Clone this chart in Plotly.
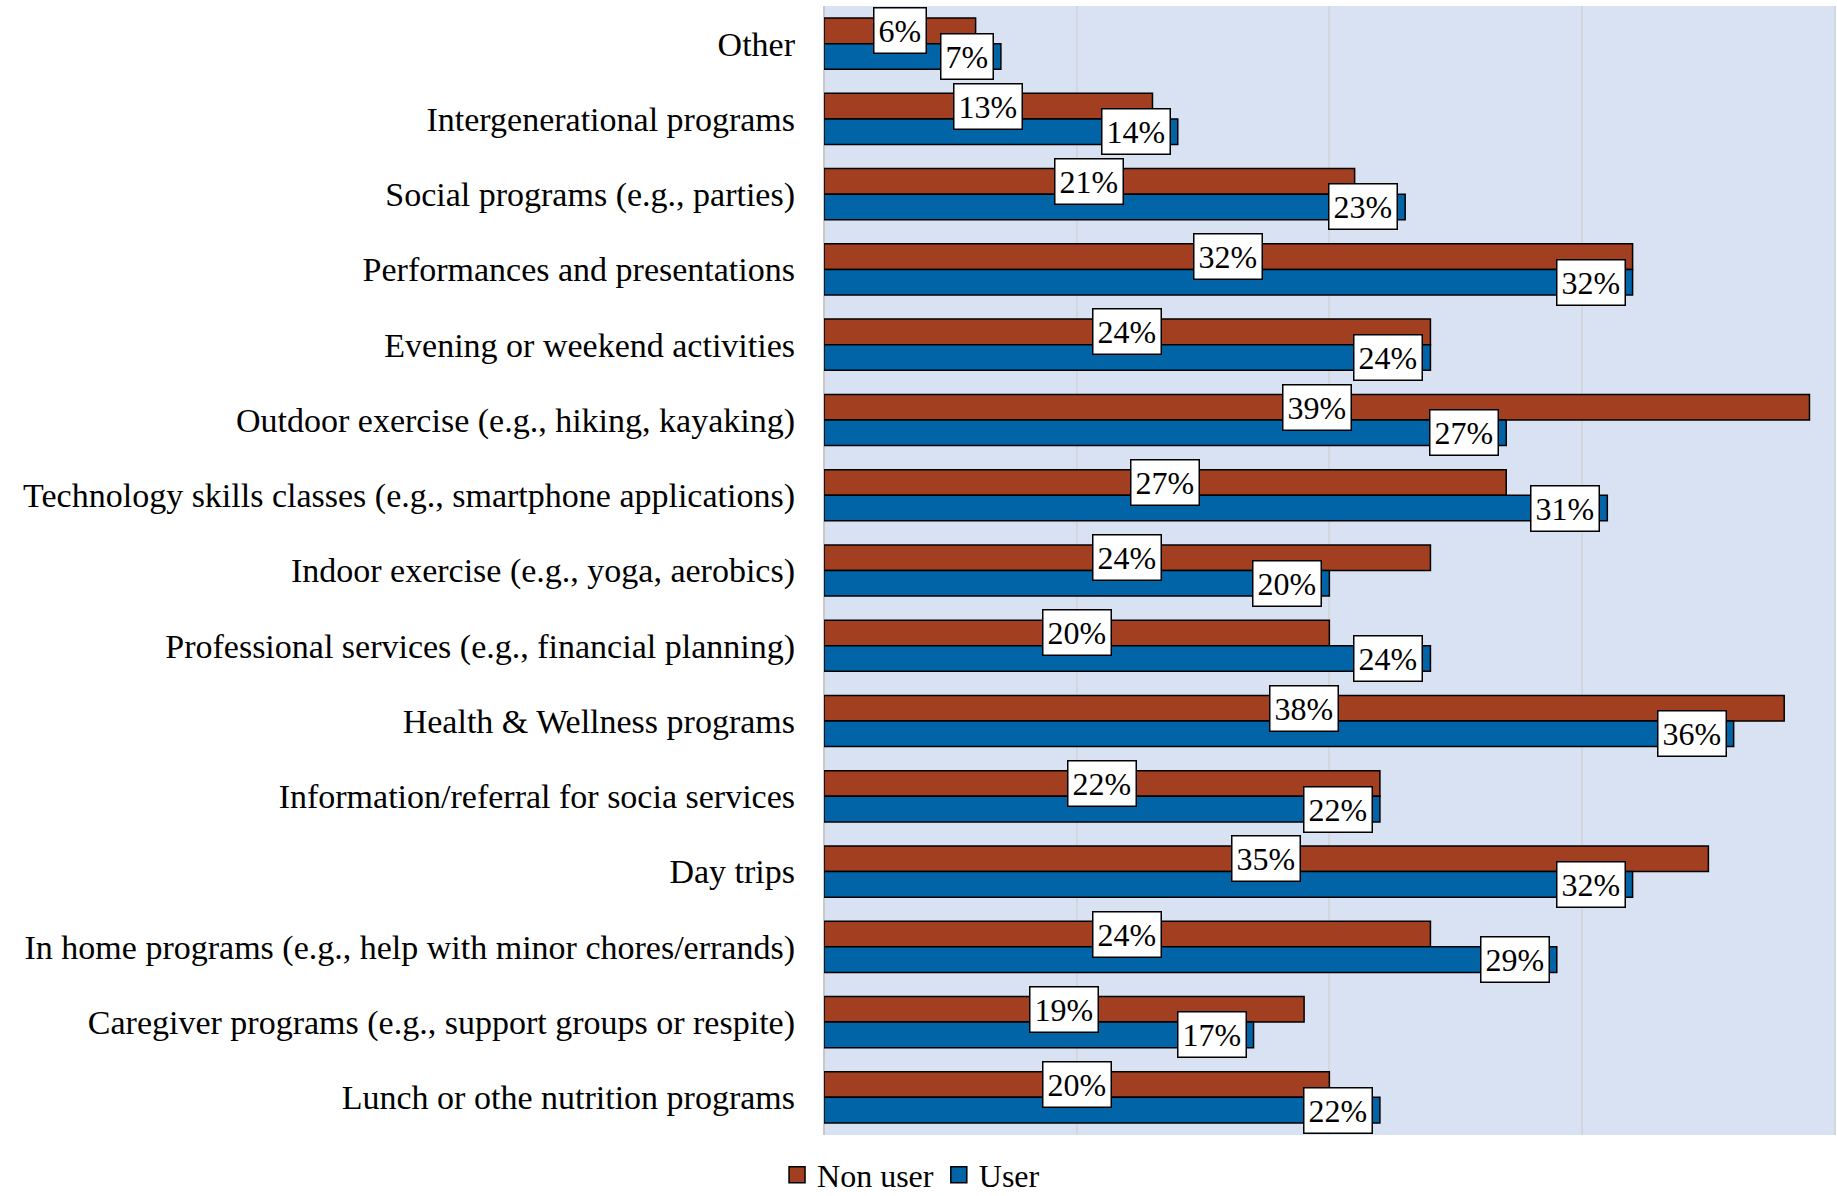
import plotly.graph_objects as go

categories = [
    "Other",
    "Intergenerational programs",
    "Social programs (e.g., parties)",
    "Performances and presentations",
    "Evening or weekend activities",
    "Outdoor exercise (e.g., hiking, kayaking)",
    "Technology skills classes (e.g., smartphone applications)",
    "Indoor exercise (e.g., yoga, aerobics)",
    "Professional services (e.g., financial planning)",
    "Health & Wellness programs",
    "Information/referral for socia services",
    "Day trips",
    "In home programs (e.g., help with minor chores/errands)",
    "Caregiver programs (e.g., support groups or respite)",
    "Lunch or othe nutrition programs",
]
non_user = [6, 13, 21, 32, 24, 39, 27, 24, 20, 38, 22, 35, 24, 19, 20]
user = [7, 14, 23, 32, 24, 27, 31, 20, 24, 36, 22, 32, 29, 17, 22]
series_names = ["Non user", "User"]

C_NON = "#A33F21"
C_USER = "#0064A7"
FONT = "Liberation Serif"

W, H = 1837, 1196
ML, MR, MT, MB = 824, 1, 6, 61
BARGAP = 0.32
plot_h = H - MT - MB
step = plot_h / len(categories)
bar_px = step * (1 - BARGAP) / 2
shift = bar_px / 2

fig = go.Figure()
fig.add_trace(go.Bar(y=categories, x=non_user, orientation="h", name=series_names[0],
                     marker=dict(color=C_NON, line=dict(color="black", width=1.5)),
                     showlegend=False))
fig.add_trace(go.Bar(y=categories, x=user, orientation="h", name=series_names[1],
                     marker=dict(color=C_USER, line=dict(color="black", width=1.5)),
                     showlegend=False))
# legend entries
for nm, col in zip(series_names, [C_NON, C_USER]):
    fig.add_trace(go.Scatter(x=[None], y=[None], mode="markers", name=nm,
                             marker=dict(symbol="square", size=16, color=col,
                                         line=dict(color="black", width=1.5))))

LBL_FONT = dict(family=FONT, size=32, color="black")
annotations = []
for cat, v in zip(categories, non_user):
    annotations.append(dict(x=v / 2, y=cat, text=f"{v}%", showarrow=False,
                            xanchor="center", yanchor="middle", yshift=shift,
                            bgcolor="white", bordercolor="black", borderwidth=1.5,
                            borderpad=4, font=LBL_FONT))
for cat, v in zip(categories, user):
    annotations.append(dict(x=v, y=cat, text=f"{v}%", showarrow=False,
                            xanchor="right", yanchor="middle", yshift=-shift, xshift=-7,
                            bgcolor="white", bordercolor="black", borderwidth=1.5,
                            borderpad=4, font=LBL_FONT))

fig.update_layout(
    width=W, height=H,
    margin=dict(l=ML, r=MR, t=MT, b=MB, autoexpand=False),
    barmode="group", bargap=BARGAP, bargroupgap=0,
    plot_bgcolor="#D9E2F3", paper_bgcolor="white",
    font=dict(family=FONT, size=34, color="black"),
    annotations=annotations,
    legend=dict(orientation="h", x=0.086, xanchor="center", y=-0.0354, yanchor="middle",
                font=dict(family=FONT, size=32), itemsizing="trace",
                bgcolor="rgba(0,0,0,0)"),
    xaxis=dict(range=[0, 40.05], dtick=10, showticklabels=False, showgrid=True,
               gridcolor="#D3D6DC", gridwidth=1.5, zeroline=True, zerolinecolor="#C8C8C8",
               zerolinewidth=2, fixedrange=True),
    yaxis=dict(autorange="reversed", type="category", ticklabelstandoff=28,
               tickfont=dict(family=FONT, size=34), showgrid=False, automargin=False),
)

fig.write_html("out.html", config={"displayModeBar": False},
               post_script="document.body.style.margin='0';")
